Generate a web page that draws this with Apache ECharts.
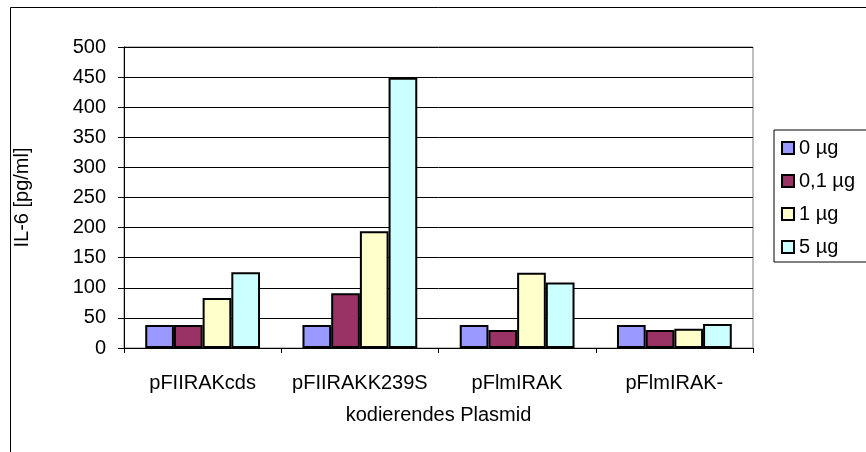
<!DOCTYPE html>
<html>
<head>
<meta charset="utf-8">
<script src="https://cdn.jsdelivr.net/npm/echarts@6/dist/echarts.min.js"></script>
<style>
  html, body { margin: 0; padding: 0; background: #fff; }
  #chart { width: 866px; height: 452px; }
</style>
</head>
<body>
<div id="chart"></div>
<script>
  // Daten
  var categories = ['pFIIRAKcds', 'pFIIRAKK239S', 'pFlmIRAK', 'pFlmIRAK-'];
  var seriesNames = ['0 µg', '0,1 µg', '1 µg', '5 µg'];
  var val0 = [38, 38, 38, 38];
  var val01 = [38, 91, 30, 30];
  var val1 = [83, 194, 125, 32];
  var val5 = [126, 449, 109, 40];
  var yTicks = [0, 50, 100, 150, 200, 250, 300, 350, 400, 450, 500];

  var colors = ['#9999FF', '#993366', '#FFFFCC', '#CCFFFF'];
  var values = [val0, val01, val1, val5];
  var font = 'Liberation Sans, Arial, sans-serif';
  var fs = 20;

  var chart = echarts.init(document.getElementById('chart'));

  var series = seriesNames.map(function (name, i) {
    return {
      name: name,
      type: 'bar',
      barGap: '0%',
      barCategoryGap: '27%',
      itemStyle: { color: colors[i], borderColor: '#000', borderWidth: 2 },
      data: values[i]
    };
  });

  chart.setOption({
    animation: false,
    textStyle: { fontFamily: font, color: '#000' },
    // äußerer Rahmen des Diagramms
    graphic: [{
      type: 'rect',
      shape: { x: 10.5, y: 7.5, width: 900, height: 500 },
      style: { fill: 'none', stroke: '#000', lineWidth: 1 }
    }],
    grid: {
      left: 124, right: 113, top: 47, bottom: 104,
      show: true, borderColor: '#808080', borderWidth: 1
    },
    legend: {
      orient: 'vertical',
      left: 774, top: 130,
      padding: [8, 40, 5, 7],
      borderColor: '#000', borderWidth: 1,
      itemWidth: 12, itemHeight: 12, itemGap: 13,
      icon: 'rect',
      textStyle: { fontSize: fs, fontFamily: font, color: '#000', lineHeight: 20 },
      data: seriesNames
    },
    xAxis: {
      type: 'category',
      data: categories,
      name: 'kodierendes Plasmid',
      nameLocation: 'middle',
      nameGap: 57,
      nameTextStyle: { fontSize: fs, fontFamily: font, color: '#000' },
      axisLine: { lineStyle: { color: '#000', width: 1 } },
      axisTick: { show: true, length: 5, lineStyle: { color: '#000' } },
      axisLabel: { fontSize: fs, color: '#000', margin: 25, interval: 0, hideOverlap: false }
    },
    yAxis: {
      type: 'value',
      min: yTicks[0], max: yTicks[yTicks.length - 1], interval: 50,
      name: 'IL-6 [pg/ml]',
      nameLocation: 'middle',
      nameGap: 92,
      nameTextStyle: { fontSize: fs, fontFamily: font, color: '#000' },
      axisLine: { show: true, lineStyle: { color: '#000', width: 1 } },
      axisTick: { show: true, length: 6, lineStyle: { color: '#000' } },
      axisLabel: { fontSize: fs, color: '#000', margin: 18 },
      splitLine: { show: true, lineStyle: { color: '#000', width: 1 } }
    },
    series: series
  });
</script>
</body>
</html>
